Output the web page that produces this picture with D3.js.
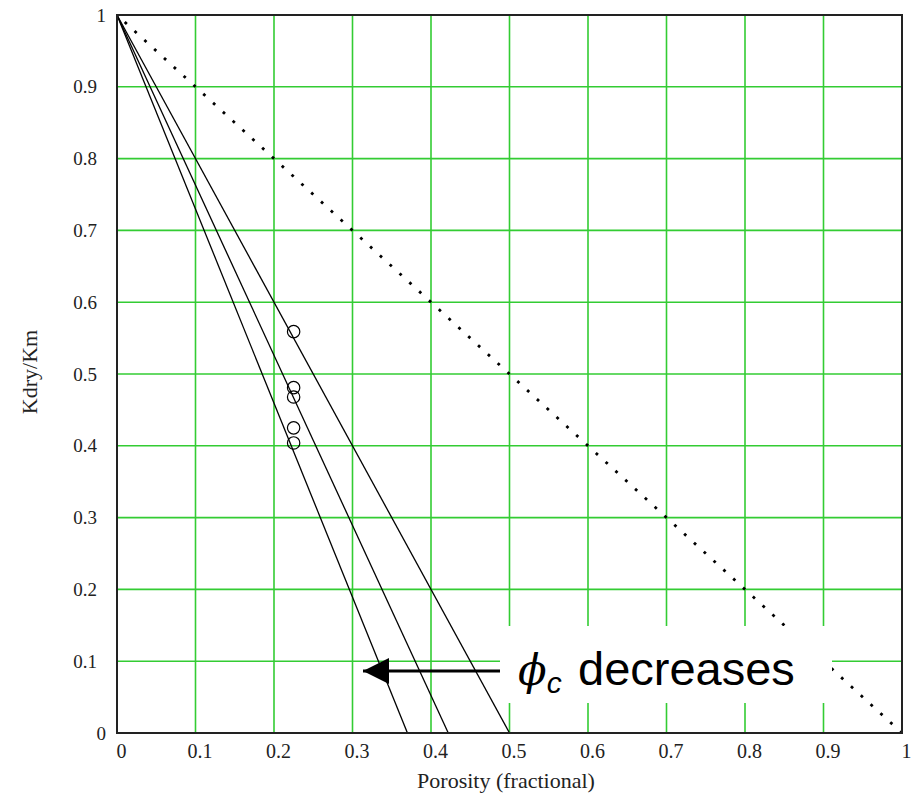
<!DOCTYPE html>
<html>
<head>
<meta charset="utf-8">
<script src="https://cdn.jsdelivr.net/npm/d3@7"></script>
<style>
  html, body { margin: 0; padding: 0; background: #fff; }
  svg { display: block; }
</style>
</head>
<body>
<div id="chart"></div>
<script>
// critical porosity lines: Kdry/Km = 1 - phi/phiC
const criticalPorosity = [0.5, 0.422, 0.37];
// measured samples
const samplePorosity = [0.225, 0.225, 0.225, 0.225, 0.225];
const sampleRatio = [0.559, 0.481, 0.468, 0.425, 0.404];
// tick values
const xTicks = [0, 0.1, 0.2, 0.3, 0.4, 0.5, 0.6, 0.7, 0.8, 0.9, 1];
const yTicks = [0, 0.1, 0.2, 0.3, 0.4, 0.5, 0.6, 0.7, 0.8, 0.9, 1];
// Voigt bound (dotted): from (0,1) to (1,0)
const voigtX = [0, 1];
const voigtY = [1, 0];

const width = 918, height = 795;
const margin = { top: 15, right: 16, bottom: 62, left: 117 };

const svg = d3.select('#chart').append('svg')
  .attr('width', width)
  .attr('height', height);

const x = d3.scaleLinear().domain([0, 1]).range([margin.left, width - margin.right]);
const y = d3.scaleLinear().domain([0, 1]).range([height - margin.bottom, margin.top]);

// grid
const grid = svg.append('g').attr('stroke', '#3c3').attr('stroke-width', 1.6);
grid.selectAll('.gx').data(xTicks.slice(1, -1)).join('line')
  .attr('x1', d => x(d)).attr('x2', d => x(d))
  .attr('y1', y(0)).attr('y2', y(1));
grid.selectAll('.gy').data(yTicks.slice(1, -1)).join('line')
  .attr('y1', d => y(d)).attr('y2', d => y(d))
  .attr('x1', x(0)).attr('x2', x(1));

// dotted Voigt line
svg.append('line')
  .attr('x1', x(voigtX[0])).attr('y1', y(voigtY[0]))
  .attr('x2', x(voigtX[1])).attr('y2', y(voigtY[1]))
  .attr('stroke', '#000')
  .attr('stroke-width', 2.8)
  .attr('stroke-dasharray', '2.8 10.5')
  .attr('stroke-dashoffset', -10.5);

// critical porosity lines
const line = d3.line().x(d => x(d[0])).y(d => y(d[1]));
svg.append('g').selectAll('path').data(criticalPorosity).join('path')
  .attr('d', pc => line([[0, 1], [pc, 0]]))
  .attr('fill', 'none')
  .attr('stroke', '#000')
  .attr('stroke-width', 1.3);

// samples
svg.append('g').selectAll('circle').data(samplePorosity).join('circle')
  .attr('cx', d => x(d))
  .attr('cy', (d, i) => y(sampleRatio[i]))
  .attr('r', 6.2)
  .attr('fill', 'none')
  .attr('stroke', '#000')
  .attr('stroke-width', 1.2);

// frame
svg.append('rect')
  .attr('x', x(0)).attr('y', y(1))
  .attr('width', x(1) - x(0)).attr('height', y(0) - y(1))
  .attr('fill', 'none')
  .attr('stroke', '#222')
  .attr('stroke-width', 2);

// axes labels
const xAxis = d3.axisBottom(x).tickValues(xTicks).tickSize(0).tickPadding(11)
  .tickFormat(d3.format('~g'));
svg.append('g')
  .attr('transform', `translate(0,${y(0)})`)
  .call(xAxis)
  .call(g => g.select('.domain').remove())
  .call(g => g.selectAll('text')
    .attr('dx', 4)
    .attr('fill', '#222')
    .style('font-family', '"Liberation Serif", serif')
    .style('font-size', '20px'));

const yAxis = d3.axisLeft(y).tickValues(yTicks).tickSize(0)
  .tickFormat(d3.format('~g'));
svg.append('g')
  .attr('transform', `translate(${x(0)},0)`)
  .call(yAxis)
  .call(g => g.select('.domain').remove())
  .call(g => g.selectAll('text')
    .attr('x', d => (d === 0 || d === 1) ? -11 : -20)
    .attr('fill', '#222')
    .style('font-family', '"Liberation Serif", serif')
    .style('font-size', '19px'));

svg.append('text')
  .attr('x', 506).attr('y', 788)
  .attr('text-anchor', 'middle')
  .attr('fill', '#222')
  .style('font-family', '"Liberation Serif", serif')
  .style('font-size', '22px')
  .text('Porosity (fractional)');

svg.append('text')
  .attr('transform', 'translate(37,372) rotate(-90)')
  .attr('text-anchor', 'middle')
  .attr('fill', '#222')
  .style('font-family', '"Liberation Serif", serif')
  .style('font-size', '22px')
  .text('Kdry/Km');

// annotation box
svg.append('rect')
  .attr('x', 500).attr('y', 626)
  .attr('width', 332).attr('height', 77)
  .attr('fill', '#fff');

svg.append('defs').append('marker')
  .attr('id', 'arrow')
  .attr('viewBox', '0 0 10 10')
  .attr('refX', 10).attr('refY', 5)
  .attr('markerWidth', 28).attr('markerHeight', 26)
  .attr('markerUnits', 'userSpaceOnUse')
  .attr('orient', 'auto')
  .append('path')
  .attr('d', 'M0,0 L10,5 L0,10 Z')
  .attr('fill', '#000');

svg.append('line')
  .attr('x1', 500).attr('y1', 671)
  .attr('x2', 363).attr('y2', 671)
  .attr('stroke', '#000')
  .attr('stroke-width', 3)
  .attr('marker-end', 'url(#arrow)');

const label = svg.append('text')
  .attr('x', 518).attr('y', 685)
  .style('font-family', '"Liberation Sans", Arial, sans-serif')
  .style('font-size', '47px')
  .attr('fill', '#000');
label.append('tspan')
  .style('font-family', '"DejaVu Serif", serif')
  .style('font-style', 'italic')
  .style('font-size', '42px')
  .text('\u03D5');
label.append('tspan')
  .attr('dy', 8)
  .style('font-style', 'italic')
  .style('font-size', '30px')
  .text('c');
label.append('tspan')
  .attr('dy', -8)
  .attr('x', 578)
  .text('decreases');
</script>
</body>
</html>
